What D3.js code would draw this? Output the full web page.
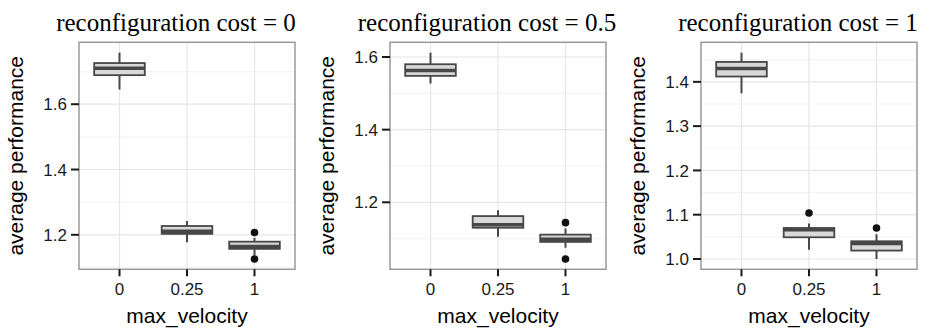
<!DOCTYPE html>
<html>
<head>
    <title>Average performance by max_velocity</title>
    <script src="https://d3js.org/d3.v7.min.js"></script>
    <style>
        body { margin: 0; background: #fff; }
        svg { display: block; background: #fff; }
        .tick-label { font-family: 'Liberation Sans', Arial, sans-serif; font-size: 17px; fill: #1a1a1a; }
        .axis-title { font-family: 'Liberation Sans', Arial, sans-serif; font-size: 21px; fill: #000; }
        .panel-title { font-family: 'Liberation Serif', 'Times New Roman', serif; font-size: 25px; fill: #000; }
    </style>
</head>
<body>
    <svg width="933" height="329"></svg>
    <script>
        // data
        const costs = ["0", "0.5", "1"];
        const velocities = ["0", "0.25", "1"];

        // [lower whisker, q1, median, q3, upper whisker] per velocity
        const statsCost0 = [
            [1.645, 1.689, 1.710, 1.726, 1.758],
            [1.177, 1.203, 1.211, 1.227, 1.242],
            [1.137, 1.157, 1.164, 1.179, 1.191]
        ];
        const statsCost05 = [
            [1.527, 1.548, 1.563, 1.580, 1.612],
            [1.105, 1.130, 1.138, 1.162, 1.178],
            [1.075, 1.091, 1.098, 1.111, 1.128]
        ];
        const statsCost1 = [
            [1.374, 1.412, 1.430, 1.445, 1.466],
            [1.021, 1.049, 1.066, 1.070, 1.080],
            [1.000, 1.019, 1.035, 1.040, 1.056]
        ];

        const outliersCost0 = [[], [], [1.126, 1.207]];
        const outliersCost05 = [[], [], [1.044, 1.144]];
        const outliersCost1 = [[], [1.104], [1.070]];

        const yTicksCost0 = [1.2, 1.4, 1.6];
        const yTicksCost05 = [1.2, 1.4, 1.6];
        const yTicksCost1 = [1.0, 1.1, 1.2, 1.3, 1.4];

        const panels = [
            {cost: costs[0], stats: statsCost0, outliers: outliersCost0, ticks: yTicksCost0},
            {cost: costs[1], stats: statsCost05, outliers: outliersCost05, ticks: yTicksCost05},
            {cost: costs[2], stats: statsCost1, outliers: outliersCost1, ticks: yTicksCost1}
        ];
        const fmt = d3.format(".1f");

        const panelWidth = 311;
        const plot = {left: 79, top: 42.3, width: 216, height: 227};

        const svg = d3.select("svg");

        panels.forEach((p, pi) => {
            const g = svg.append("g")
                .attr("transform", `translate(${pi * panelWidth},0)`);

            // y domain: data range expanded by 5% like ggplot
            const all = p.stats.flat().concat(p.outliers.flat());
            const lo = d3.min(all), hi = d3.max(all);
            const pad = (hi - lo) * 0.05;

            const y = d3.scaleLinear()
                .domain([lo - pad, hi + pad])
                .range([plot.top + plot.height, plot.top]);

            const x = d3.scaleBand()
                .domain(velocities)
                .range([plot.left, plot.left + plot.width])
                .paddingInner(0)
                .paddingOuter(0.1);
            const cx = d => x(d) + x.bandwidth() / 2;

            // minor grid (halfway between majors)
            const step = p.ticks[1] - p.ticks[0];
            const minor = d3.range(p.ticks[0] - step / 2, hi + pad, step)
                .filter(v => v > lo - pad && v < hi + pad);
            g.selectAll(".minor")
                .data(minor)
                .enter().append("line")
                .attr("x1", plot.left).attr("x2", plot.left + plot.width)
                .attr("y1", d => y(d)).attr("y2", d => y(d))
                .attr("stroke", "#f4f4f4").attr("stroke-width", 1.2);

            // major grid
            g.selectAll(".major-y")
                .data(p.ticks)
                .enter().append("line")
                .attr("x1", plot.left).attr("x2", plot.left + plot.width)
                .attr("y1", d => y(d)).attr("y2", d => y(d))
                .attr("stroke", "#e6e6e6").attr("stroke-width", 1.2);
            g.selectAll(".major-x")
                .data(velocities)
                .enter().append("line")
                .attr("x1", cx).attr("x2", cx)
                .attr("y1", plot.top).attr("y2", plot.top + plot.height)
                .attr("stroke", "#e6e6e6").attr("stroke-width", 1.2);

            // boxes
            const bw = x.bandwidth() * 0.75;
            const boxes = g.selectAll(".box")
                .data(p.stats)
                .enter().append("g");

            boxes.append("line")
                .attr("x1", (d, i) => cx(velocities[i])).attr("x2", (d, i) => cx(velocities[i]))
                .attr("y1", d => y(d[0])).attr("y2", d => y(d[4]))
                .attr("stroke", "#474747").attr("stroke-width", 2);

            boxes.append("rect")
                .attr("x", (d, i) => cx(velocities[i]) - bw / 2)
                .attr("width", bw)
                .attr("y", d => y(d[3]))
                .attr("height", d => y(d[1]) - y(d[3]))
                .attr("fill", "#d9d9d9")
                .attr("stroke", "#474747").attr("stroke-width", 1.8);

            boxes.append("line")
                .attr("x1", (d, i) => cx(velocities[i]) - bw / 2)
                .attr("x2", (d, i) => cx(velocities[i]) + bw / 2)
                .attr("y1", d => y(d[2])).attr("y2", d => y(d[2]))
                .attr("stroke", "#474747").attr("stroke-width", 3.5);

            // outliers
            p.outliers.forEach((vals, i) => {
                g.selectAll(null)
                    .data(vals)
                    .enter().append("circle")
                    .attr("cx", cx(velocities[i]))
                    .attr("cy", d => y(d))
                    .attr("r", 3.8)
                    .attr("fill", "#111");
            });

            // panel border
            g.append("rect")
                .attr("x", plot.left).attr("y", plot.top)
                .attr("width", plot.width).attr("height", plot.height)
                .attr("fill", "none")
                .attr("stroke", "#999").attr("stroke-width", 1.5);

            // y axis ticks + labels
            g.selectAll(".ytick")
                .data(p.ticks)
                .enter().append("line")
                .attr("x1", plot.left - 8).attr("x2", plot.left)
                .attr("y1", d => y(d)).attr("y2", d => y(d))
                .attr("stroke", "#1a1a1a").attr("stroke-width", 2);
            g.selectAll(".ylab")
                .data(p.ticks)
                .enter().append("text")
                .attr("class", "tick-label")
                .attr("x", plot.left - 12)
                .attr("y", d => y(d))
                .attr("dy", "0.36em")
                .attr("text-anchor", "end")
                .text(fmt);

            // x axis ticks + labels
            g.selectAll(".xtick")
                .data(velocities)
                .enter().append("line")
                .attr("x1", cx).attr("x2", cx)
                .attr("y1", plot.top + plot.height).attr("y2", plot.top + plot.height + 7)
                .attr("stroke", "#1a1a1a").attr("stroke-width", 2);
            g.selectAll(".xlab")
                .data(velocities)
                .enter().append("text")
                .attr("class", "tick-label")
                .attr("x", cx)
                .attr("y", 295)
                .attr("text-anchor", "middle")
                .text(d => d);

            // axis titles
            g.append("text")
                .attr("class", "axis-title")
                .attr("x", plot.left + plot.width / 2)
                .attr("y", 323)
                .attr("text-anchor", "middle")
                .text("max_velocity");

            g.append("text")
                .attr("class", "axis-title")
                .attr("transform", `translate(22.5,${plot.top + plot.height / 2}) rotate(-90)`)
                .attr("text-anchor", "middle")
                .text("average performance");

            // panel title
            g.append("text")
                .attr("class", "panel-title")
                .attr("x", 176)
                .attr("y", 31)
                .attr("text-anchor", "middle")
                .text("reconfiguration cost = " + p.cost);
        });
    </script>
</body>
</html>
